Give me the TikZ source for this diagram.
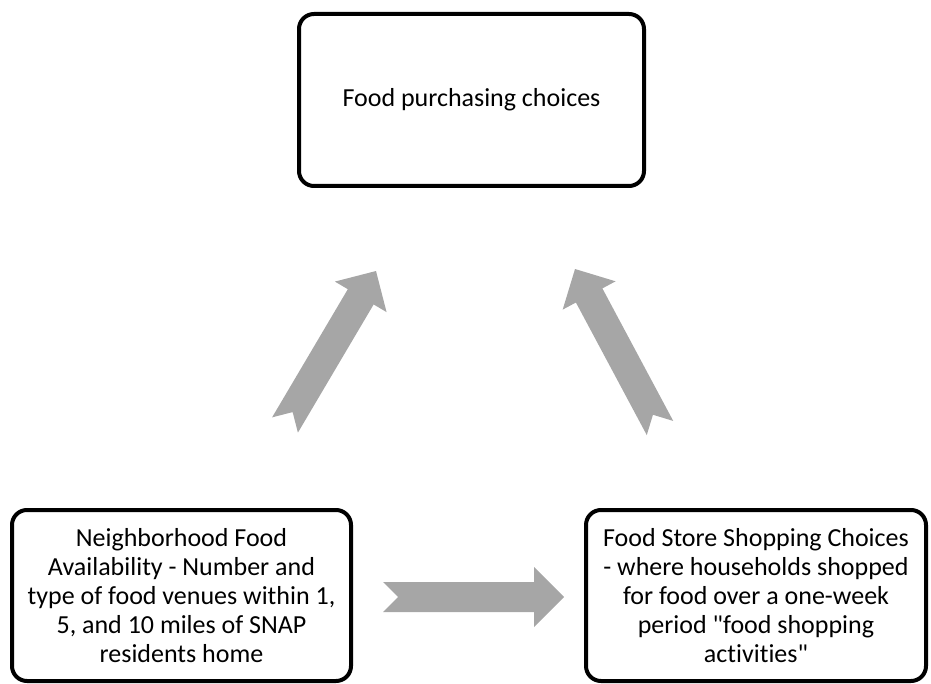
\documentclass[tikz,border=0pt]{standalone}
\usepackage{fontspec}
\setmainfont{Carlito}[Ligatures={TeXOff,CommonOff}]
\usetikzlibrary{calc}
\definecolor{arrowgray}{HTML}{A6A6A6}
\tikzset{
  box/.style={draw=black, line width=4pt, rounded corners=15pt, fill=white,
    inner sep=0pt, align=center, font=\fontsize{26}{29}\selectfont},
  fatarrow/.style={fill=arrowgray}
}
\newcommand\fatarrowdraw[2]{%
  \fill[fatarrow] let \p1=($(#2)-(#1)$), \n1={atan2(\y1,\x1)}, \n2={veclen(\x1,\y1)} in
    [shift={(#1)}, rotate=\n1]
    (0pt,15pt) -- (\n2-30pt,15pt) -- (\n2-30pt,30pt) -- (\n2,0pt)
    -- (\n2-30pt,-30pt) -- (\n2-30pt,-15pt) -- (0pt,-15pt) -- (15pt,0pt) -- cycle;%
}
\begin{document}
\begin{tikzpicture}[x=1pt,y=-1pt]
\useasboundingbox (0,0) rectangle (931,684);
\node[box, minimum width=345pt, minimum height=172pt] (top) at (471.5,100) {Food purchasing choices};
\node[box, minimum width=339pt, minimum height=171pt] (left) at (181.5,595.5)
  {Neighborhood Food\\Availability - Number and\\type of food venues within 1,\\5, and 10 miles of SNAP\\residents home};
\node[box, minimum width=340pt, minimum height=171pt] (right) at (756,595.5)
  {Food Store Shopping Choices\\- where households shopped\\for food over a one-week\\period "food shopping\\activities"};
\coordinate (a1s) at (285,425);
\coordinate (a1e) at (376,271);
\coordinate (a2s) at (660,428);
\coordinate (a2e) at (575,269);
\coordinate (a3s) at (383,597);
\coordinate (a3e) at (564,597);
\fatarrowdraw{a1s}{a1e}
\fatarrowdraw{a2s}{a2e}
\fatarrowdraw{a3s}{a3e}
\end{tikzpicture}
\end{document}
